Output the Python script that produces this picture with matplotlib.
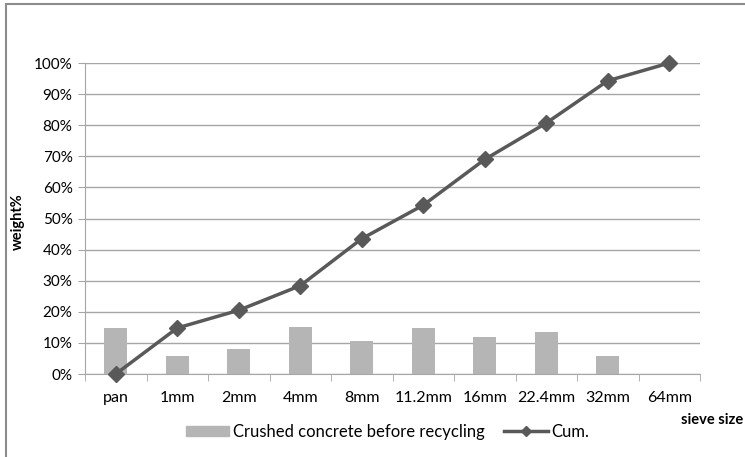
import matplotlib.pyplot as plt
import matplotlib.patches as mpatches
from matplotlib.lines import Line2D
import numpy as np

plt.rcParams['font.family'] = ['Lato', 'DejaVu Sans']

sizes = ['pan', '1mm', '2mm', '4mm', '8mm', '11.2mm', '16mm', '22.4mm', '32mm', '64mm']
retained = [14.8, 5.8, 7.9, 15.2, 10.6, 14.7, 12.0, 13.5, 5.8, 0.0]
cum = [0.0, 14.8, 20.5, 28.4, 43.5, 54.3, 69.0, 80.7, 94.3, 100.0]
yticks = [0, 10, 20, 30, 40, 50, 60, 70, 80, 90, 100]

fig = plt.figure(figsize=(7.45, 4.57), dpi=100)
ax = fig.add_axes([0.1141, 0.1816, 0.8255, 0.6805])

# outer frame (right and bottom edges cut off in the original)
fig.patches.append(mpatches.Rectangle((6 / 745, -0.1), 1.2, 1 - 4 / 457 + 0.1,
                                      transform=fig.transFigure, fill=False,
                                      edgecolor='#8c8c8c', linewidth=1.5))

x = np.arange(len(sizes))
bars = ax.bar(x, retained, width=0.37, color='#b5b5b5', zorder=2)
ax.plot(x, cum, color='#595959', lw=2.5, marker='D', ms=8, zorder=3, clip_on=False)

ax.set_xlim(-0.5, len(sizes) - 0.5)
ax.set_ylim(0, 100)
ax.set_yticks(yticks)
ax.set_yticklabels([f'{v}%' for v in yticks], fontsize=11)
ax.yaxis.grid(True, color='#a6a6a6', lw=1)
ax.set_axisbelow(True)

ax.set_xticks(x)
ax.set_xticklabels(sizes, fontsize=11.5)
ax.set_xticks(np.arange(-0.5, len(sizes)), minor=True)
ax.tick_params(axis='x', which='major', length=0, pad=12)
ax.tick_params(axis='x', which='minor', length=5, color='#a6a6a6')
ax.tick_params(axis='y', length=5, color='#a6a6a6', pad=4)

for s in ['top', 'right']:
    ax.spines[s].set_visible(False)
ax.spines['left'].set_color('#a6a6a6')
ax.spines['bottom'].set_color('#a6a6a6')

fig.text(18 / 745, 1 - 222 / 457, 'weight%', rotation=90, fontsize=10.5,
         fontweight='bold', ha='center', va='center')
fig.text(743 / 745, 1 - 420 / 457, 'sieve size', fontsize=10.5,
         fontweight='bold', ha='right', va='center')

handles = [mpatches.Patch(color='#b5b5b5'),
           Line2D([], [], color='#595959', lw=2.5, marker='D', ms=5)]
labels = ['Crushed concrete before recycling', 'Cum.']
fig.legend(handles, labels, loc='center', bbox_to_anchor=(0.52, 25 / 457), ncol=2,
           frameon=False, fontsize=12, handlelength=2.6, handleheight=0.6,
           columnspacing=1.2, handletextpad=0.2)

fig.savefig('out.png', dpi=100)
